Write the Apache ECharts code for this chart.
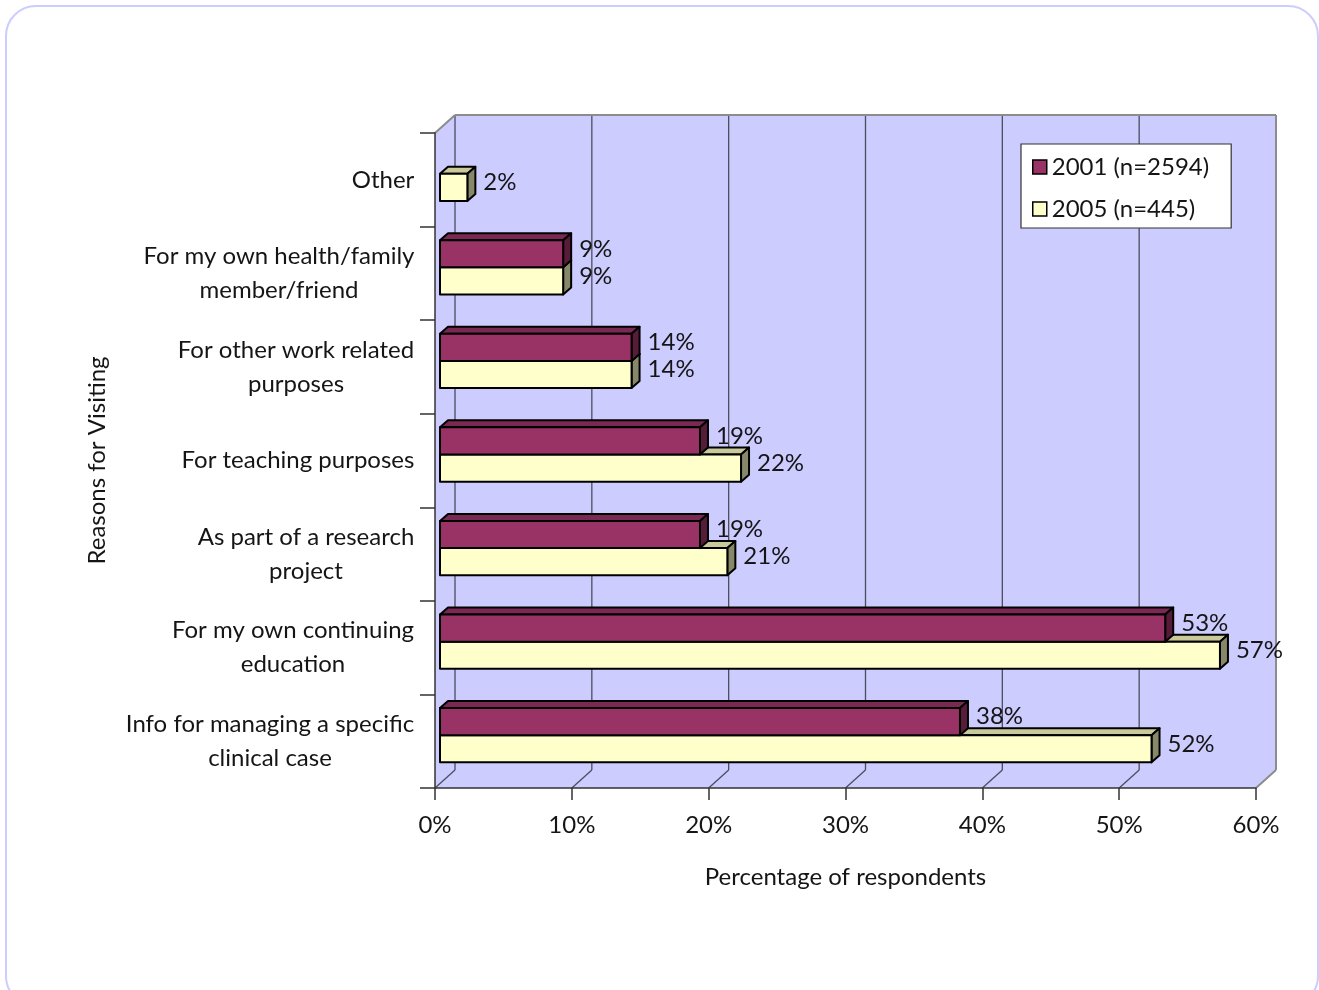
<!DOCTYPE html>
<html><head><meta charset="utf-8">
<script src="https://cdn.jsdelivr.net/npm/echarts@6/dist/echarts.min.js"></script>
<style>html,body{margin:0;padding:0;background:#fff}#c{width:1319px;height:990px}</style>
</head><body><div id="c"></div>
<script>
// ---------- data ----------
const categories = [
  'Other',
  'For my own health/family\nmember/friend',
  'For other work related\npurposes',
  'For teaching purposes',
  'As part of a research\nproject',
  'For my own continuing\neducation',
  'Info for managing a specific\nclinical case'
];
const values2001 = [null, 9, 14, 19, 19, 53, 38];
const values2005 = [2, 9, 14, 22, 21, 57, 52];
const seriesNames = ['2001 (n=2594)', '2005 (n=445)'];
const xTickValues = [0, 10, 20, 30, 40, 50, 60];
const xTitle = 'Percentage of respondents';
const yTitle = 'Reasons for Visiting';

// ---------- style ----------
const FONT = 'Lato';
const FS = 24;
const TXT = '#151515';
const DX = 20, DY = -18;      // wall depth
const BDX = 8, BDY = -7;      // bar depth
const SX = 5, SY = -6;        // bar placement inside depth
const WALL = '#CCCCFF';
const GRIDC = '#4d4d5e';
const EDGE = '#8c8c8c';
const faces = [
  { front: '#993366', top: '#7A2952', side: '#561C39' },
  { front: '#FFFFCC', top: '#C9C99C', side: '#87876A' }
];

const ctx = document.createElement('canvas').getContext('2d');
ctx.font = FS + 'px ' + FONT;
const rich = {};
categories.forEach((c, i) => {
  const w = Math.max(...c.split('\n').map(s => ctx.measureText(s).width));
  rich['r' + i] = { width: Math.ceil(w) + 1, align: 'center', fontSize: FS, fontFamily: FONT, lineHeight: 34, color: TXT };
});

function wallRender(params, api) {
  const cs = params.coordSys;
  const x0 = cs.x, y0 = cs.y, x1 = cs.x + cs.width, y1 = cs.y + cs.height;
  const ch = [];
  const poly = pts => ({ type: 'polygon', shape: { points: pts }, style: { fill: WALL, stroke: null } });
  ch.push(poly([[x0 + DX, y0 + DY], [x1 + DX, y0 + DY], [x1 + DX, y1 + DY], [x0 + DX, y1 + DY]]));
  ch.push(poly([[x0, y0], [x0 + DX, y0 + DY], [x0 + DX, y1 + DY], [x0, y1]]));
  ch.push(poly([[x0, y1], [x0 + DX, y1 + DY], [x1 + DX, y1 + DY], [x1, y1]]));
  const line = (a, b, c, d, col, w) => ({ type: 'line', shape: { x1: a, y1: b, x2: c, y2: d }, style: { stroke: col, lineWidth: w } });
  xTickValues.forEach((v, i) => {
    const px = api.coord([v, 0])[0];
    const last = i === xTickValues.length - 1;
    ch.push(line(px + DX, y0 + DY, px + DX, y1 + DY, last ? EDGE : GRIDC, last ? 2 : 1.3));
    ch.push(line(px, y1, px + DX, y1 + DY, last ? EDGE : GRIDC, last ? 2 : 1.3));
  });
  ch.push(line(x0 + DX, y0 + DY, x1 + DX, y0 + DY, EDGE, 2));
  ch.push(line(x0, y0, x0 + DX, y0 + DY, EDGE, 2));
  return { type: 'group', children: ch };
}

function barRender(si) {
  return function (params, api) {
    const cat = api.value(0), val = api.value(1);
    if (val == null || isNaN(val)) return;
    const p0 = api.coord([0, cat]);
    const p1 = api.coord([val, cat]);
    const band = api.size([0, 1])[1];
    const h = band * 0.29;
    const cy = p0[1] + SY;
    const top = si === 0 ? cy - h : cy;
    const bot = top + h;
    const xa = p0[0] + SX, xb = p1[0] + SX;
    const f = faces[si];
    const st = fill => ({ fill, stroke: '#000', lineWidth: 2, lineJoin: 'round' });
    return {
      type: 'group',
      children: [
        { type: 'polygon', shape: { points: [[xa, top], [xa + BDX, top + BDY], [xb + BDX, top + BDY], [xb, top]] }, style: st(f.top) },
        { type: 'polygon', shape: { points: [[xb, top], [xb + BDX, top + BDY], [xb + BDX, bot + BDY], [xb, bot]] }, style: st(f.side) },
        { type: 'rect', shape: { x: xa, y: top, width: xb - xa, height: h }, style: st(f.front) },
        { type: 'text', x: xb + BDX + 8, y: (top + bot) / 2 - 5,
          style: { text: Math.round(val) + '%', fill: TXT, font: FS + 'px ' + FONT, verticalAlign: 'middle', align: 'left' } }
      ]
    };
  };
}

const chart = echarts.init(document.getElementById('c'), null, { renderer: 'canvas' });
chart.setOption({
  animation: false,
  backgroundColor: '#fff',
  textStyle: { fontFamily: FONT },
  graphic: [{
    type: 'rect', z: -10, shape: { x: 6, y: 6, width: 1312, height: 1000, r: 30 },
    style: { fill: '#fff', stroke: '#CCCCFF', lineWidth: 2 }
  }],
  grid: { left: 435, right: 63, top: 133, bottom: 202, containLabel: false },
  legend: {
    orient: 'vertical', left: 1021, top: 144,
    backgroundColor: '#fff', borderColor: '#333', borderWidth: 1.2,
    padding: [11, 22, 7, 11], itemGap: 18, itemWidth: 14, itemHeight: 14,
    textStyle: { fontSize: FS, fontFamily: FONT, color: TXT, lineHeight: 24 },
    data: [
      { name: seriesNames[0], icon: 'rect', itemStyle: { color: faces[0].front, borderColor: '#000', borderWidth: 1.5 } },
      { name: seriesNames[1], icon: 'rect', itemStyle: { color: faces[1].front, borderColor: '#000', borderWidth: 1.5 } }
    ]
  },
  xAxis: {
    type: 'value', min: 0, max: 60, interval: 10, z: 1,
    name: xTitle, nameLocation: 'middle', nameGap: 77,
    nameTextStyle: { fontSize: FS, fontFamily: FONT, color: TXT },
    axisLine: { show: true, lineStyle: { color: '#333', width: 1.5 } },
    axisTick: { show: true, length: 12, lineStyle: { color: '#333', width: 1.5 } },
    axisLabel: { formatter: '{value}%', fontSize: FS, fontFamily: FONT, color: TXT, margin: 25 },
    splitLine: { show: false }
  },
  yAxis: {
    type: 'category', data: categories, inverse: true, z: 1,
    name: yTitle, nameLocation: 'middle', nameGap: 326,
    nameTextStyle: { fontSize: FS, fontFamily: FONT, color: TXT },
    axisLine: { show: true, lineStyle: { color: '#333', width: 1.5 } },
    axisTick: { show: true, length: 15, lineStyle: { color: '#333', width: 1.5 } },
    axisLabel: {
      margin: 20, align: 'right', rich,
      formatter: (value, idx) => value.split('\n').map(s => '{r' + idx + '|' + s + '}').join('\n')
    }
  },
  series: [
    { type: 'custom', name: 'walls', z: 0, silent: true, clip: false, renderItem: wallRender, data: [[0, 0]], encode: { x: 1, y: 0 } },
    { type: 'custom', name: seriesNames[1], z: 2, clip: false, renderItem: barRender(1),
      itemStyle: { color: faces[1].front },
      data: values2005.map((v, i) => [i, v]), encode: { x: 1, y: 0 } },
    { type: 'custom', name: seriesNames[0], z: 3, clip: false, renderItem: barRender(0),
      itemStyle: { color: faces[0].front },
      data: values2001.map((v, i) => [i, v]), encode: { x: 1, y: 0 } }
  ]
});
</script>
</body></html>
